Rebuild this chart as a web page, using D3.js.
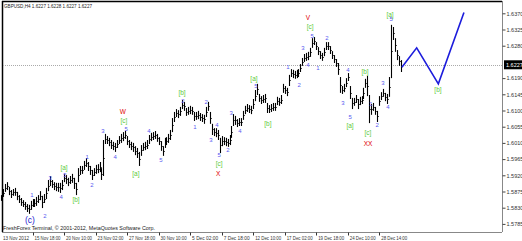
<!DOCTYPE html>
<html>
  <head>
    <meta charset="utf-8" />
    <title>GBPUSD H4</title>
    <script src="https://cdnjs.cloudflare.com/ajax/libs/d3/7.8.5/d3.min.js"></script>
    <style>
      body { margin: 0; background: #fff; }
      svg text { font-family: "Liberation Sans", Arial, sans-serif; }
    </style>
  </head>
  <body>
    <div id="chart"></div>
    <script>
      // bar highs / lows, one per H4 bar
      const highs = [
        1.5865, 1.5882, 1.5896, 1.5901, 1.5888, 1.5879, 1.5882, 1.5885, 1.5874, 1.5865,
        1.5857, 1.5851, 1.5846, 1.5840, 1.5838, 1.5849, 1.5854, 1.5854, 1.5860, 1.5865,
        1.5876, 1.5863, 1.5868, 1.5885, 1.5907, 1.5918, 1.5907, 1.5901, 1.5899, 1.5899,
        1.5899, 1.5907, 1.5924, 1.5921, 1.5913, 1.5918, 1.5924, 1.5913, 1.5899, 1.5940,
        1.5946, 1.5946, 1.5960, 1.5968, 1.5957, 1.5946, 1.5935, 1.5940, 1.5949, 1.5951,
        1.5957, 1.5940, 1.6018, 1.6035, 1.6029, 1.6024, 1.6018, 1.6013, 1.6010, 1.6018,
        1.6029, 1.6035, 1.6040, 1.6043, 1.6029, 1.6018, 1.6013, 1.6010, 1.6001, 1.5996,
        1.5985, 1.6004, 1.6010, 1.6013, 1.6018, 1.6032, 1.6038, 1.6040, 1.6043, 1.6035,
        1.6026, 1.6015, 1.6001, 1.6024, 1.6026, 1.6035, 1.6046, 1.6079, 1.6096, 1.6104,
        1.6101, 1.6110, 1.6129, 1.6124, 1.6107, 1.6110, 1.6113, 1.6110, 1.6096, 1.6096,
        1.6099, 1.6093, 1.6090, 1.6088, 1.6110, 1.6124, 1.6096, 1.6063, 1.6051, 1.6051,
        1.6046, 1.6024, 1.6029, 1.6026, 1.6024, 1.6021, 1.6032, 1.6057, 1.6090, 1.6085,
        1.6076, 1.6079, 1.6079, 1.6099, 1.6113, 1.6118, 1.6115, 1.6113, 1.6132, 1.6157,
        1.6174, 1.6146, 1.6140, 1.6143, 1.6146, 1.6121, 1.6115, 1.6118, 1.6121, 1.6121,
        1.6138, 1.6135, 1.6143, 1.6174, 1.6168, 1.6163, 1.6199, 1.6215, 1.6213, 1.6210,
        1.6213, 1.6215, 1.6229, 1.6246, 1.6257, 1.6260, 1.6263, 1.6274, 1.6301, 1.6304,
        1.6290, 1.6276, 1.6265, 1.6260, 1.6274, 1.6290, 1.6290, 1.6279, 1.6265, 1.6254,
        1.6243, 1.6232, 1.6193, 1.6168, 1.6174, 1.6190, 1.6204, 1.6168, 1.6135, 1.6135,
        1.6143, 1.6132, 1.6138, 1.6140, 1.6163, 1.6188, 1.6196, 1.6143, 1.6118, 1.6121,
        1.6110, 1.6099, 1.6140, 1.6151, 1.6160, 1.6149, 1.6146, 1.6193, 1.6338, 1.6332,
        1.6301, 1.6268, 1.6251, 1.6240
      ];
      const lows = [
        1.5849, 1.5860, 1.5874, 1.5879, 1.5865, 1.5857, 1.5863, 1.5863, 1.5851, 1.5843,
        1.5835, 1.5832, 1.5824, 1.5818, 1.5813, 1.5824, 1.5832, 1.5832, 1.5835, 1.5843,
        1.5851, 1.5829, 1.5843, 1.5854, 1.5876, 1.5890, 1.5885, 1.5879, 1.5876, 1.5874,
        1.5871, 1.5879, 1.5901, 1.5896, 1.5890, 1.5896, 1.5899, 1.5882, 1.5865, 1.5901,
        1.5921, 1.5924, 1.5935, 1.5943, 1.5932, 1.5921, 1.5907, 1.5918, 1.5924, 1.5926,
        1.5929, 1.5907, 1.5918, 1.6007, 1.6007, 1.6001, 1.5993, 1.5990, 1.5985, 1.5996,
        1.6007, 1.6010, 1.6015, 1.6021, 1.6004, 1.5996, 1.5990, 1.5985, 1.5976, 1.5968,
        1.5946, 1.5974, 1.5988, 1.5990, 1.5993, 1.6007, 1.6015, 1.6018, 1.6021, 1.6013,
        1.6004, 1.5988, 1.5974, 1.5996, 1.6004, 1.6010, 1.6018, 1.6040, 1.6068, 1.6082,
        1.6079, 1.6085, 1.6104, 1.6099, 1.6085, 1.6088, 1.6090, 1.6088, 1.6071, 1.6074,
        1.6076, 1.6071, 1.6068, 1.6063, 1.6082, 1.6099, 1.6063, 1.6032, 1.6029, 1.6026,
        1.6018, 1.5982, 1.6001, 1.6004, 1.6001, 1.5999, 1.6004, 1.6024, 1.6057, 1.6060,
        1.6054, 1.6057, 1.6057, 1.6074, 1.6090, 1.6096, 1.6093, 1.6090, 1.6104, 1.6126,
        1.6143, 1.6124, 1.6118, 1.6121, 1.6121, 1.6093, 1.6093, 1.6096, 1.6099, 1.6099,
        1.6115, 1.6113, 1.6118, 1.6149, 1.6146, 1.6140, 1.6168, 1.6193, 1.6190, 1.6188,
        1.6190, 1.6193, 1.6207, 1.6224, 1.6235, 1.6238, 1.6240, 1.6249, 1.6274, 1.6282,
        1.6268, 1.6254, 1.6243, 1.6238, 1.6251, 1.6268, 1.6268, 1.6257, 1.6243, 1.6232,
        1.6221, 1.6199, 1.6149, 1.6146, 1.6151, 1.6165, 1.6182, 1.6132, 1.6104, 1.6113,
        1.6121, 1.6104, 1.6115, 1.6118, 1.6132, 1.6163, 1.6140, 1.6065, 1.6088, 1.6099,
        1.6088, 1.6068, 1.6113, 1.6129, 1.6138, 1.6126, 1.6118, 1.6138, 1.6190, 1.6296,
        1.6263, 1.6240, 1.6224, 1.6207
      ];

      const symbolTitle = "GBPUSD,H4  1.6227 1.6228 1.6227 1.6227";
      const lastPrice = 1.6227;
      const footer = "FreshForex Terminal, \u00a9 2001-2012, MetaQuotes Software Corp.";

      const priceTicks = [1.637, 1.6325, 1.628, 1.6235, 1.619, 1.6145, 1.61, 1.6055,
        1.601, 1.5965, 1.592, 1.5875, 1.583, 1.5785];

      const timeTickBars = [0, 16, 32, 48, 64, 80, 96, 112, 128, 144, 160, 176, 192];
      const timeTickLabels = ["13 Nov 2012", "15 Nov 18:00", "20 Nov 10:00", "23 Nov 02:00",
        "27 Nov 18:00", "30 Nov 10:00", "5 Dec 02:00", "7 Dec 18:00", "12 Dec 10:00",
        "17 Dec 02:00", "19 Dec 18:00", "24 Dec 10:00", "28 Dec 14:00"];

      // forecast path (blue)
      const forecastBars = [203.5, 211, 222, 235];
      const forecastPrices = [1.622, 1.6274, 1.6174, 1.6372];

      // wave marks: bar position, price, text
      const waveBars = [14.7, 22.3, 15.7, 24.9, 30.5, 32.5, 32.0, 38.1, 43.7, 46.2, 51.8,
        57.9, 63.5, 62.4, 61.9, 68.5, 75.1, 81.2, 91.9, 92.4, 98.5, 104.1, 106.6, 109.6,
        110.7, 110.7, 110.2, 115.2, 116.8, 121.3, 128.4, 129.4, 135.5, 145.7, 151.3, 153.3,
        155.8, 157.9, 156.9, 155.8, 160.9, 165.5, 173.6, 176.1, 177.2, 177.2, 184.8, 187.8,
        190.9, 186.3, 186.3, 193.9, 196.4, 197.5, 198.0, 221.8];
      const wavePrices = [1.5797, 1.5807, 1.5865, 1.5913, 1.586, 1.5921, 1.5943, 1.5854,
        1.5971, 1.5893, 1.6043, 1.5971, 1.6049, 1.6071, 1.6096, 1.5926, 1.6043, 1.5962,
        1.6149, 1.6126, 1.6054, 1.6124, 1.6018, 1.606, 1.5976, 1.5954, 1.5926, 1.599,
        1.6093, 1.6043, 1.619, 1.6168, 1.6063, 1.6221, 1.6171, 1.6274, 1.6226, 1.6307,
        1.6332, 1.6357, 1.6218, 1.6301, 1.6121, 1.6213, 1.6082, 1.6057, 1.6207, 1.6118,
        1.606, 1.6038, 1.6007, 1.6177, 1.611, 1.6368, 1.6354, 1.6157];
      const waveTexts = ["(c)", "2", "1", "3", "4", "5", "[a]", "[b]", "1", "2", "3",
        "4", "5", "[c]", "W", "[a]", "4", "5", "[b]", "2", "1", "2", "3", "4",
        "5", "[c]", "X", "2", "3", "4", "[a]", "5", "[b]", "1", "2", "3",
        "4", "5", "[c]", "V", "1", "2", "3", "4", "5", "[a]", "[b]", "1",
        "2", "[c]", "XX", "3", "4", "[a]", "5", "[b]"];

      const W = 522, H = 241;
      const plotL = 2, plotR = 502, plotT = 1, plotB = 232;

      const svg = d3.select("#chart").append("svg")
        .attr("width", W).attr("height", H);

      const x = d3.scaleLinear().domain([0, 256]).range([1, 1 + 1.97 * 256]);
      const y = d3.scaleLinear().domain([1.57625, 1.64042]).range([plotB, plotT]);

      // frame
      svg.append("line").attr("x1", plotL).attr("x2", plotR).attr("y1", plotT + 0.5).attr("y2", plotT + 0.5)
        .attr("stroke", "#000").attr("stroke-width", 1.5);
      svg.append("line").attr("x1", plotL + 0.5).attr("x2", plotL + 0.5).attr("y1", plotT).attr("y2", plotB)
        .attr("stroke", "#000").attr("stroke-width", 1.5);

      // right price axis
      const yAxis = d3.axisRight(y)
        .tickValues(priceTicks.filter((p) => Math.abs(y(p) - y(lastPrice)) > 7))
        .tickFormat(d3.format(".4f"))
        .tickSize(3)
        .tickPadding(1);
      const ya = svg.append("g").attr("transform", `translate(${plotR + 0.5},0)`).call(yAxis);
      ya.select(".domain").attr("stroke", "#888").attr("d", `M0,${plotT}V${plotB}`);
      ya.selectAll(".tick line").attr("stroke", "#444");
      ya.selectAll("text").attr("font-size", 5.5).attr("fill", "#333")
        .attr("font-family", "Liberation Sans, Arial, sans-serif");

      // bottom time axis
      const xa = svg.append("g").attr("transform", `translate(0,${plotB + 0.5})`);
      xa.append("line").attr("x1", plotL).attr("x2", plotR).attr("stroke", "#888");
      xa.selectAll("line.tk").data(timeTickBars.slice(1)).join("line").attr("class", "tk")
        .attr("x1", (d) => Math.round(x(d)) + 0.5).attr("x2", (d) => Math.round(x(d)) + 0.5)
        .attr("y1", 0).attr("y2", 3).attr("stroke", "#333");
      xa.selectAll("text").data(timeTickBars).join("text")
        .attr("x", (d, i) => (i === 0 ? 3 : x(d) + 2))
        .attr("y", 7)
        .attr("font-size", 5.3)
        .attr("fill", "#333")
        .attr("textLength", 26)
        .attr("lengthAdjust", "spacingAndGlyphs")
        .text((d, i) => timeTickLabels[i]);

      // last price dotted line
      svg.append("line").attr("x1", plotL + 1).attr("x2", plotR)
        .attr("y1", Math.round(y(lastPrice)) + 0.5).attr("y2", Math.round(y(lastPrice)) + 0.5)
        .attr("stroke", "#aaa").attr("stroke-dasharray", "1,1");

      // bars: high-low stroke with a short right tick at the bar middle
      const bx = (i) => Math.round(x(i)) + 0.5;
      const bars = svg.append("g").attr("stroke", "#000").attr("fill", "none");
      bars.selectAll("line.hl").data(highs).join("line").attr("class", "hl")
        .attr("x1", (d, i) => bx(i)).attr("x2", (d, i) => bx(i))
        .attr("y1", (d) => y(d)).attr("y2", (d, i) => y(lows[i]))
        .attr("stroke-width", 1.1);
      bars.selectAll("line.tc").data(highs).join("line").attr("class", "tc")
        .attr("x1", (d, i) => bx(i)).attr("x2", (d, i) => bx(i) + 1.2)
        .attr("y1", (d, i) => Math.round(y((d + lows[i]) / 2)) + 0.5)
        .attr("y2", (d, i) => Math.round(y((d + lows[i]) / 2)) + 0.5)
        .attr("stroke-width", 1);

      // forecast
      svg.append("path")
        .datum(forecastBars.map((b, i) => [x(b), y(forecastPrices[i])]))
        .attr("d", d3.line())
        .attr("fill", "none").attr("stroke", "#1c1cdc").attr("stroke-width", 1.6);

      // wave labels
      const kindStyle = (t) => {
        if (t === "(c)") return { fill: "#2424d0", size: 8.5 };
        if (t[0] === "[") return { fill: "#5ccb3c", size: 6.5 };
        if (/^[WXVY]+$/.test(t)) return { fill: "#e00000", size: 6.5 };
        return { fill: "#5a5af0", size: 6 };
      };
      svg.append("g").selectAll("text").data(waveTexts).join("text")
        .attr("x", (d, i) => x(waveBars[i]))
        .attr("y", (d, i) => y(wavePrices[i]))
        .attr("text-anchor", "middle")
        .attr("dominant-baseline", "central")
        .attr("font-size", (d) => kindStyle(d).size)
        .attr("fill", (d) => kindStyle(d).fill)
        .text((d) => d);

      // price box
      const py = y(lastPrice);
      svg.append("rect").attr("x", plotR + 2).attr("y", py - 4.5).attr("width", 19).attr("height", 9).attr("fill", "#000");
      svg.append("text").attr("x", plotR + 4).attr("y", py + 2).attr("font-size", 5.5).attr("fill", "#fff")
        .text(lastPrice.toFixed(4));

      // header + footer
      svg.append("text").attr("x", 4).attr("y", 8).attr("font-size", 5.5).attr("fill", "#222")
        .attr("textLength", 88).attr("lengthAdjust", "spacingAndGlyphs").text(symbolTitle);
      svg.append("text").attr("x", 3).attr("y", 230).attr("font-size", 5.5).attr("fill", "#222")
        .attr("textLength", 152).attr("lengthAdjust", "spacingAndGlyphs").text(footer);
    </script>
  </body>
</html>
